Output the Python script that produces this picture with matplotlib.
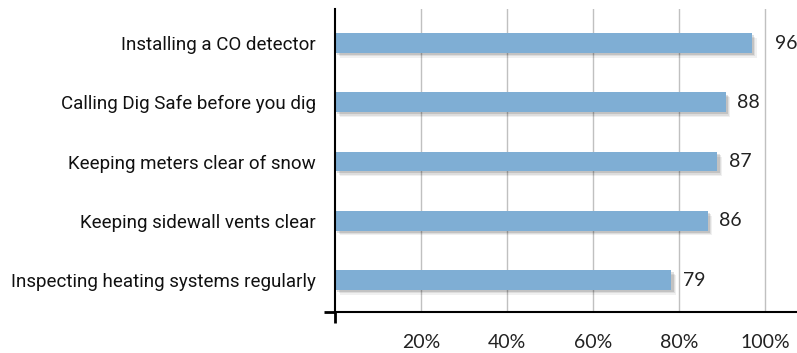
import matplotlib
matplotlib.use("Agg")
import matplotlib.pyplot as plt
import matplotlib.patheffects as pe

# datos (de abajo hacia arriba)
actividades = [
    "Inspecting heating systems regularly",
    "Keeping sidewall vents clear",
    "Keeping meters clear of snow",
    "Calling Dig Safe before you dig",
    "Installing a CO detector",
]
etiquetas = ["79", "86", "87", "88", "96"]
largo_barra = [78.2, 86.6, 88.9, 90.8, 96.9]
ticks_x = [20, 40, 60, 80, 100]
ticks_txt = ["20%", "40%", "60%", "80%", "100%"]

color_barra = "#7FAED4"
fuente_cat = ["Roboto", "DejaVu Sans"]
fuente_num = ["Lato", "DejaVu Sans"]

fig = plt.figure(figsize=(7.97, 3.53), dpi=100)
ax = fig.add_axes([0.4207, 0.117, 0.5793, 0.8575])

y = list(range(len(actividades)))
sombra = [
    pe.SimplePatchShadow(offset=(3.5, -3.5), shadow_rgbFace="black", alpha=0.06),
    pe.SimplePatchShadow(offset=(2.5, -2.5), shadow_rgbFace="black", alpha=0.08),
    pe.SimplePatchShadow(offset=(1.5, -1.5), shadow_rgbFace="black", alpha=0.12),
    pe.Normal(),
]
barras = ax.barh(y, largo_barra, height=0.33, color=color_barra, zorder=3)
for b in barras:
    b.set_path_effects(sombra)

# etiquetas de valor
for i, (v, t) in enumerate(zip(largo_barra, etiquetas)):
    dx = 17 if v > 95 else 8.5
    ax.annotate(t, (v, i), xytext=(dx, 0), textcoords="offset points",
                ha="left", va="center", fontsize=14, family=fuente_num,
                color="#222222")

ax.set_xlim(0, 107.4)
ax.set_ylim(-0.535, 4.574)

ax.set_xticks(ticks_x)
ax.set_xticklabels(ticks_txt, family=fuente_num, fontsize=14, color="#222222")
ax.set_yticks(y)
ax.set_yticklabels(actividades, family=fuente_cat, fontsize=13.5, color="#111111")
ax.tick_params(axis="x", which="major", length=0, pad=16)
ax.tick_params(axis="y", which="major", length=0, pad=14)

# marcas pequeñas en el origen
ax.set_xticks([0], minor=True)
ax.set_yticks([-0.535], minor=True)
ax.tick_params(which="minor", length=8, width=2, direction="out", color="black")

ax.grid(axis="x", color="#C0C0C0", linewidth=1, zorder=0)
ax.set_axisbelow(True)

for s in ["top", "right"]:
    ax.spines[s].set_visible(False)
for s in ["left", "bottom"]:
    ax.spines[s].set_linewidth(1.5)
    ax.spines[s].set_color("black")
    ax.spines[s].set_zorder(4)

fig.savefig("out.png", dpi=100)
